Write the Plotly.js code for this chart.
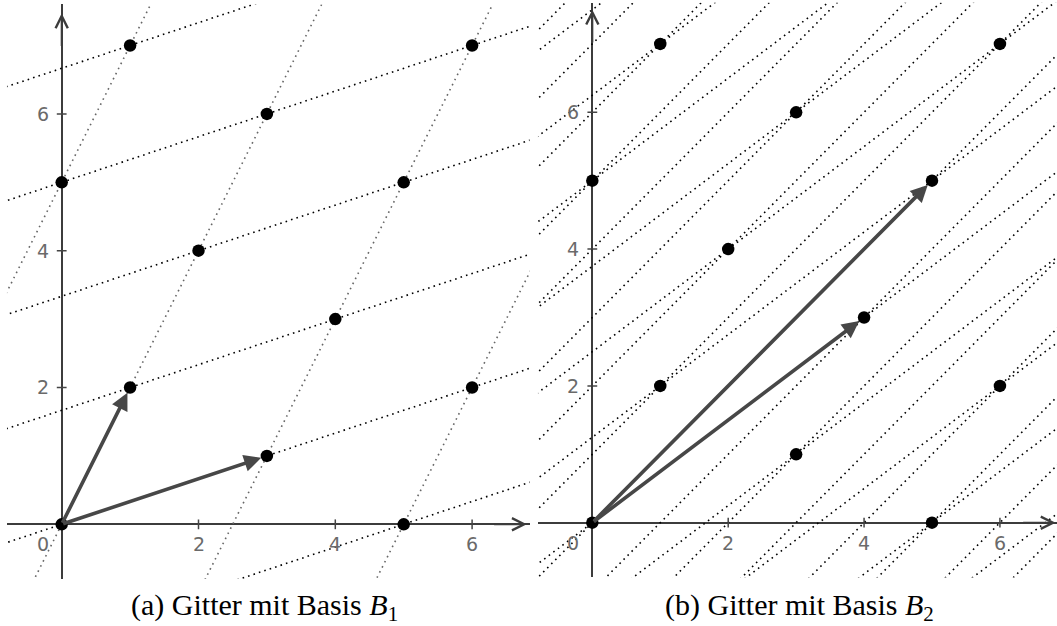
<!DOCTYPE html>
<html>
<head>
<meta charset="utf-8">
<script src="https://cdn.plot.ly/plotly-3.0.1.min.js"></script>
<style>
  html, body { margin: 0; padding: 0; background: #fff; }
  #chart { width: 1057px; height: 626px; }
</style>
</head>
<body>
<div id="chart"></div>
<script>
// ---------- data ----------
const latticeX = [0, 0, 1, 1, 2, 3, 3, 4, 5, 5, 6, 6];
const latticeY = [0, 5, 2, 7, 4, 1, 6, 3, 0, 5, 2, 7];
const basis1 = [[1, 2], [3, 1]];   // B1
const basis2 = [[4, 3], [5, 5]];   // B2
const tickVals = [2, 4, 6];
const tickText = ['2', '4', '6'];
const originLabel = '0';
const captions = ['(a) Gitter mit Basis <i>B</i><sub>1</sub>',
                  '(b) Gitter mit Basis <i>B</i><sub>2</sub>'];

// ---------- helpers ----------
// lines of the lattice: direction v, shifted by k*w
function latticeLines(v, w) {
  const xs = [], ys = [];
  const T = 40;
  for (let k = -25; k <= 25; k++) {
    const px = k * w[0], py = k * w[1];
    xs.push(px - T * v[0], px + T * v[0], null);
    ys.push(py - T * v[1], py + T * v[1], null);
  }
  return {xs, ys};
}

const traces = [];
const annotations = [];

function buildPanel(basis, xa, ya, caption, capX, opt) {
  const l1 = latticeLines(basis[0], basis[1]);
  const l2 = latticeLines(basis[1], basis[0]);
  traces.push({type: 'scatter', mode: 'lines', x: l1.xs, y: l1.ys, xaxis: xa, yaxis: ya,
    line: {color: opt.c1, width: 1.6, dash: '1.6px,4.1px'}, hoverinfo: 'skip', connectgaps: false});
  traces.push({type: 'scatter', mode: 'lines', x: l2.xs, y: l2.ys, xaxis: xa, yaxis: ya,
    line: {color: opt.c2, width: 1.6, dash: '1.6px,4.1px'}, hoverinfo: 'skip', connectgaps: false});
  // tick marks
  traces.push({type: 'scatter', mode: 'markers', x: tickVals, y: tickVals.map(() => 0), xaxis: xa, yaxis: ya,
    marker: {symbol: 'line-ns-open', size: 7, color: '#444', line: {color: '#444', width: 1.5}}, hoverinfo: 'skip'});
  traces.push({type: 'scatter', mode: 'markers', x: tickVals.map(() => 0), y: tickVals, xaxis: xa, yaxis: ya,
    marker: {symbol: 'line-ew-open', size: 7, color: '#444', line: {color: '#444', width: 1.5}}, hoverinfo: 'skip'});
  // lattice points
  traces.push({type: 'scatter', mode: 'markers', x: latticeX, y: latticeY, xaxis: xa, yaxis: ya,
    marker: {color: '#000', size: 12.5, line: {width: 0}}, hoverinfo: 'skip'});
  // axis arrow heads
  annotations.push({xref: xa, yref: ya, axref: xa, ayref: ya, x: opt.xTip, y: 0, ax: opt.xTip - 0.5, ay: 0,
    text: '', showarrow: true, arrowhead: 5, arrowsize: 1.2, arrowwidth: 2, arrowcolor: '#3c3c3c'});
  annotations.push({xref: xa, yref: ya, axref: xa, ayref: ya, x: 0, y: opt.yTip, ax: 0, ay: opt.yTip - 0.5,
    text: '', showarrow: true, arrowhead: 5, arrowsize: 1.2, arrowwidth: 2, arrowcolor: '#3c3c3c'});
  // basis vectors
  basis.forEach(v => {
    annotations.push({xref: xa, yref: ya, axref: xa, ayref: ya, x: v[0], y: v[1], ax: 0, ay: 0,
      text: '', showarrow: true, arrowhead: 2, arrowsize: 0.95, arrowwidth: 3.6, arrowcolor: '#474747',
      standoff: 6});
  });
  // tick labels
  const lf = {family: 'DejaVu Sans, sans-serif', size: 19, color: '#6a6a6a'};
  tickVals.forEach((t, i) => {
    annotations.push({xref: xa, yref: ya, x: t, y: 0, yshift: -20, text: tickText[i], showarrow: false, font: lf});
    annotations.push({xref: xa, yref: ya, x: 0, y: t, xshift: -19, text: tickText[i], showarrow: false, font: lf});
  });
  annotations.push({xref: xa, yref: ya, x: 0, y: 0, xshift: -19, yshift: -20, text: originLabel, showarrow: false, font: lf});
  // caption
  annotations.push({xref: 'paper', yref: 'paper', x: capX, y: 0.03, yanchor: 'middle', xanchor: 'center',
    text: caption, showarrow: false,
    font: {family: 'Liberation Serif, DejaVu Serif, serif', size: 30, color: '#000'}});
}

buildPanel(basis1, 'x', 'y', captions[0], 264 / 1057, {c1: '#666', c2: '#000', xTip: 6.8, yTip: 7.47});
buildPanel(basis2, 'x2', 'y2', captions[1], 799 / 1057, {c1: '#000', c2: '#000', xTip: 6.82, yTip: 7.5});

const W = 1057, H = 626;
function ax(domLeftPx, domRightPx, range) {
  return {domain: [domLeftPx / W, domRightPx / W], range: range, showgrid: false, showticklabels: false,
    ticks: '', showline: false, zeroline: true, zerolinecolor: '#3c3c3c', zerolinewidth: 2, fixedrange: true};
}
function ay(topPx, botPx, range) {
  return {domain: [(H - botPx) / H, (H - topPx) / H], range: range, showgrid: false, showticklabels: false,
    ticks: '', showline: false, zeroline: true, zerolinecolor: '#3c3c3c', zerolinewidth: 2, fixedrange: true};
}
const s = 68.4;
const layout = {
  width: W, height: H,
  margin: {l: 0, r: 0, t: 0, b: 0},
  paper_bgcolor: '#fff', plot_bgcolor: 'rgba(0,0,0,0)',
  showlegend: false,
  xaxis: Object.assign(ax(61.7 - 0.8 * s, 61.7 + 6.84 * s, [-0.8, 6.84]), {anchor: 'y'}),
  yaxis: Object.assign(ay(524.3 - 7.6 * s, 524.3 + 0.8 * s, [-0.8, 7.6]), {anchor: 'x'}),
  xaxis2: Object.assign(ax(592.7 - 0.8 * s, 592.7 + 6.84 * s, [-0.8, 6.84]), {anchor: 'y2'}),
  yaxis2: Object.assign(ay(522.7 - 7.6 * s, 522.7 + 0.8 * s, [-0.8, 7.6]), {anchor: 'x2'}),
  annotations: annotations
};
Plotly.newPlot('chart', traces, layout, {staticPlot: true, displayModeBar: false});
</script>
</body>
</html>
